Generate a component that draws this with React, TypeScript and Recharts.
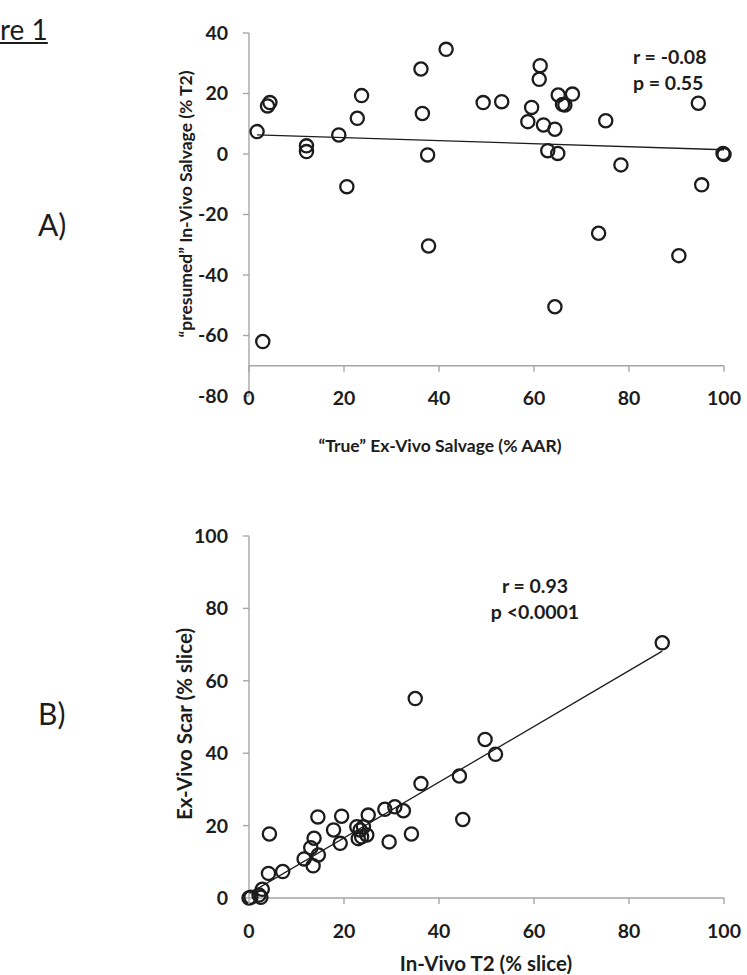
import React from "react";
import {
  ScatterChart,
  Scatter,
  XAxis,
  YAxis,
  ReferenceLine,
} from "recharts";

// panel A: "true" ex-vivo salvage vs "presumed" in-vivo salvage
const salvageX = [
  1.7, 3.9, 4.4, 2.9, 12.1, 12.1, 18.9, 20.6, 22.8, 23.7, 36.2, 36.5, 37.6,
  37.8, 41.5, 49.3, 53.2, 58.7, 59.5, 61.1, 61.3, 62.0, 62.9, 64.4, 64.4,
  65.0, 65.1, 66.0, 66.5, 68.1, 73.6, 75.1, 78.3, 90.5, 94.6, 95.3, 99.8, 100,
];
const salvageY = [
  7.4, 15.9, 17.0, -62.0, 2.7, 0.8, 6.3, -10.8, 11.8, 19.3, 28.1, 13.4, -0.3,
  -30.4, 34.6, 17.0, 17.3, 10.7, 15.4, 24.7, 29.2, 9.6, 1.1, 8.2, -50.5, 0.2,
  19.5, 16.4, 16.2, 19.8, -26.2, 11.0, -3.6, -33.6, 16.8, -10.2, 0.2, -0.2,
];
const trendAX = [1.7, 100];
const trendAY = [6.3, 1.4];
const xTicks = [0, 20, 40, 60, 80, 100];
const yTicksA = [-80, -60, -40, -20, 0, 20, 40];

// panel B: in-vivo T2 vs ex-vivo scar
const t2X = [
  0, 0.4, 2.1, 2.5, 2.8, 4.1, 4.3, 7.1, 11.6, 13.0, 13.5, 13.7, 14.6, 14.5,
  17.8, 19.2, 19.5, 22.7, 23.0, 23.4, 23.7, 24.1, 24.8, 25.1, 28.6, 29.5,
  30.7, 32.5, 34.2, 35.0, 36.2, 44.3, 45.0, 49.7, 51.9, 87.0,
];
const scarY = [
  0, 0.2, 0.8, 0.2, 2.4, 6.8, 17.7, 7.3, 10.8, 13.9, 8.9, 16.5, 11.9, 22.4,
  18.8, 15.1, 22.6, 19.7, 16.4, 18.8, 16.9, 19.7, 17.4, 22.9, 24.5, 15.5,
  25.2, 24.1, 17.7, 55.1, 31.6, 33.7, 21.7, 43.8, 39.7, 70.5,
];
const trendBX = [0, 87];
const trendBY = [1.2, 68.2];
const yTicksB = [0, 20, 40, 60, 80, 100];

const dataA = salvageX.map((x, i) => ({ x, y: salvageY[i] }));
const dataB = t2X.map((x, i) => ({ x, y: scarY[i] }));
const trendA = trendAX.map((x, i) => ({ x, y: trendAY[i] }));
const trendB = trendBX.map((x, i) => ({ x, y: trendBY[i] }));

const FONT = "Lato, 'Open Sans', sans-serif";
const AXIS = "#a6a6a6";
const INK = "#1c1c1c";
const TICK_FS = 19.5;

// x axis of panel A crosses the y axis at -70, not at the bottom
const A_MIN = -80;
const A_MAX = 40;
const A_CROSS = -70;
const A_PLOT_H = 363;
const A_CROSS_PX = ((A_CROSS - A_MIN) / (A_MAX - A_MIN)) * A_PLOT_H;

const ring = (p: any) => (
  <circle
    cx={p.cx}
    cy={p.cy}
    r={6.6}
    fill="none"
    stroke={INK}
    strokeWidth={2.3}
  />
);

const makeXTick = (cross: number, labelDy: number) => (props: any) => {
  const { x, y, payload } = props;
  return (
    <g>
      <line
        x1={x}
        x2={x}
        y1={y - cross}
        y2={y - cross + 6}
        stroke={AXIS}
        strokeWidth={1.4}
      />
      <text
        x={x}
        y={y + labelDy}
        textAnchor="middle"
        dominantBaseline="central"
        fontFamily={FONT}
        fontWeight={700}
        fontSize={TICK_FS}
        fill={INK}
      >
        {payload.value}
      </text>
    </g>
  );
};

const yTick = { fontFamily: FONT, fontWeight: 700, fontSize: TICK_FS, fill: INK };

const title =
  (x: number, y: number, text: string, size: number, rotate = false) =>
  () => (
    <text
      x={x}
      y={y}
      textAnchor="middle"
      dominantBaseline="central"
      transform={rotate ? `rotate(-90 ${x} ${y})` : undefined}
      fontFamily={FONT}
      fontWeight={700}
      fontSize={size}
      fill={INK}
    >
      {text}
    </text>
  );

const abs = (left: number, top: number, extra: React.CSSProperties = {}) =>
  ({
    position: "absolute",
    left,
    top,
    fontFamily: FONT,
    color: INK,
    whiteSpace: "nowrap",
    ...extra,
  }) as React.CSSProperties;

const note = { fontSize: 19.5, fontWeight: 700, lineHeight: "22px" };

export default function App() {
  return (
    <div
      style={{
        position: "absolute",
        left: 0,
        top: 0,
        width: 747,
        height: 975,
        background: "#fff",
        overflow: "hidden",
      }}
    >
      <div
        style={abs(0, 15, {
          fontSize: 28,
          lineHeight: "28px",
          textDecoration: "underline",
        })}
      >
        re 1
      </div>
      <div style={abs(38, 209, { fontSize: 30, lineHeight: "30px" })}>A)</div>
      <div style={abs(38, 698, { fontSize: 30, lineHeight: "30px" })}>B)</div>

      <div style={{ position: "absolute", left: 0, top: 0 }}>
        <ScatterChart
          width={747}
          height={470}
          margin={{ top: 33, right: 23, bottom: 14, left: 189 }}
        >
          <XAxis
            type="number"
            dataKey="x"
            domain={[0, 100]}
            ticks={xTicks}
            interval={0}
            axisLine={false}
            tickLine={false}
            tickSize={0}
            tickMargin={0}
            height={60}
            tick={makeXTick(A_CROSS_PX, 1)}
            label={{
              content: title(440, 445, "“True” Ex-Vivo Salvage (% AAR)", 17.5),
            }}
          />
          <YAxis
            type="number"
            dataKey="y"
            domain={[A_MIN, A_MAX]}
            ticks={yTicksA}
            interval={0}
            width={60}
            axisLine={{ stroke: AXIS, strokeWidth: 1.4 }}
            tickLine={{ stroke: AXIS, strokeWidth: 1.4 }}
            tickSize={6}
            tickMargin={15}
            tick={yTick}
            label={{
              content: title(
                185,
                204,
                "“presumed” In-Vivo Salvage (% T2)",
                17.5,
                true
              ),
            }}
          />
          <ReferenceLine y={A_CROSS} stroke={AXIS} strokeWidth={1.4} />
          <ReferenceLine segment={trendA} stroke={INK} strokeWidth={1.3} />
          <Scatter data={dataA} shape={ring} isAnimationActive={false} />
        </ScatterChart>
      </div>

      <div style={abs(633, 46, note)}>r = -0.08</div>
      <div style={abs(633, 72, note)}>p = 0.55</div>

      <div style={{ position: "absolute", left: 0, top: 470 }}>
        <ScatterChart
          width={747}
          height={505}
          margin={{ top: 66, right: 23, bottom: 17, left: 189 }}
        >
          <XAxis
            type="number"
            dataKey="x"
            domain={[0, 100]}
            ticks={xTicks}
            interval={0}
            axisLine={{ stroke: AXIS, strokeWidth: 1.4 }}
            tickLine={false}
            tickSize={0}
            tickMargin={0}
            height={60}
            tick={makeXTick(0, 32)}
            label={{ content: title(486, 493, "In-Vivo T2 (% slice)", 20.5) }}
          />
          <YAxis
            type="number"
            dataKey="y"
            domain={[0, 100]}
            ticks={yTicksB}
            interval={0}
            width={60}
            axisLine={{ stroke: AXIS, strokeWidth: 1.4 }}
            tickLine={{ stroke: AXIS, strokeWidth: 1.4 }}
            tickSize={6}
            tickMargin={15}
            tick={yTick}
            label={{
              content: title(184, 254, "Ex-Vivo Scar (% slice)", 20.5, true),
            }}
          />
          <ReferenceLine segment={trendB} stroke={INK} strokeWidth={1.3} />
          <Scatter data={dataB} shape={ring} isAnimationActive={false} />
        </ScatterChart>
      </div>

      <div style={abs(435, 575, { ...note, width: 200, textAlign: "center" })}>
        r = 0.93
      </div>
      <div style={abs(435, 601, { ...note, width: 200, textAlign: "center" })}>
        p &lt;0.0001
      </div>
    </div>
  );
}
